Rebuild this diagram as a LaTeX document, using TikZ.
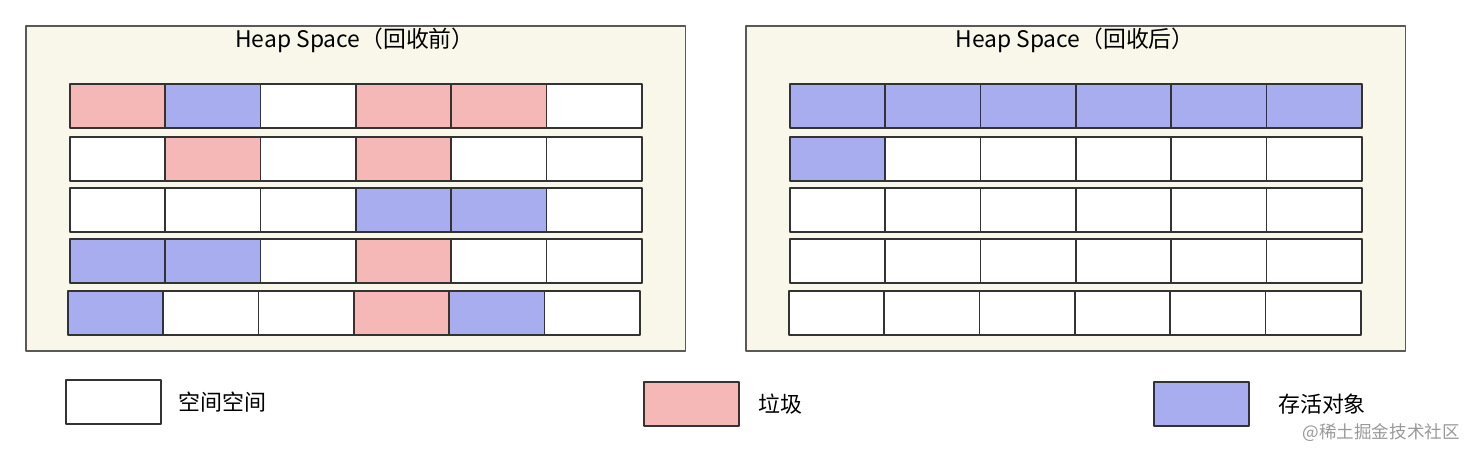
\documentclass[tikz,border=0pt]{standalone}
\usepackage{fontspec}
\setmainfont{Noto Sans CJK SC}
\definecolor{panelbg}{HTML}{F9F7EA}
\definecolor{garbage}{HTML}{F5B8B6}
\definecolor{alive}{HTML}{A8ADF0}
\definecolor{edge}{HTML}{333333}

\begin{document}
\begin{tikzpicture}[x=0.02cm,y=-0.02cm,line join=round,
  panel/.style={draw=black!65,fill=panelbg,line width=0.9pt,inner sep=0pt,anchor=north west,minimum width=13.2cm,minimum height=6.5cm},
  cell/.style={draw=edge,line width=0.9pt,inner sep=0pt,anchor=north west,minimum width=1.907cm,minimum height=0.88cm},
  title/.style={font=\fontsize{13}{15}\selectfont},
  legendtext/.style={anchor=west,font=\fontsize{12.5}{14}\selectfont},
  watermarktext/.style={anchor=east,text=black!40,font=\fontsize{10}{12}\selectfont}]
\useasboundingbox (0,0) rectangle (1469,449);
\node[panel] (before) at (25,25) {};
\node[panel] (after) at (745,25) {};
\node[title] (beforetitle) at (355,40) {Heap Space（回收前）};
\node[title] (aftertitle) at (1075,40) {Heap Space（回收后）};
% before collection
\foreach \row/\y/\dx/\fills in {1/83/0/{garbage,alive,white,garbage,garbage,white},
    2/136/0/{white,garbage,white,garbage,white,white},
    3/187/0/{white,white,white,alive,alive,white},
    4/238/0/{alive,alive,white,garbage,white,white},
    5/290/-2/{alive,white,white,garbage,alive,white}}
  \foreach \f [count=\k] in \fills
    \node[cell,fill=\f] (L\row-\k) at ({69+\dx+(\k-1)*95.33},\y) {};
% after collection
\foreach \row/\y/\dx/\fills in {1/83/0/{alive,alive,alive,alive,alive,alive},
    2/136/0/{alive,white,white,white,white,white},
    3/187/0/{white,white,white,white,white,white},
    4/238/0/{white,white,white,white,white,white},
    5/290/-1/{white,white,white,white,white,white}}
  \foreach \f [count=\k] in \fills
    \node[cell,fill=\f] (R\row-\k) at ({789+\dx+(\k-1)*95.33},\y) {};
% legend
\node[cell,fill=white] (keyfree) at (65,379) {};
\node[legendtext,right=6pt] (keyfreetext) at (keyfree.east) {空间空间};
\node[cell,fill=garbage] (keygarbage) at (643,381) {};
\node[legendtext,right=7pt] (keygarbagetext) at (keygarbage.east) {垃圾};
\node[cell,fill=alive] (keyalive) at (1153,381) {};
\node[legendtext,right=12.5pt] (keyalivetext) at (keyalive.east) {存活对象};
\node[watermarktext] (watermark) at (1466,433) {@稀土掘金技术社区};
\end{tikzpicture}
\end{document}
